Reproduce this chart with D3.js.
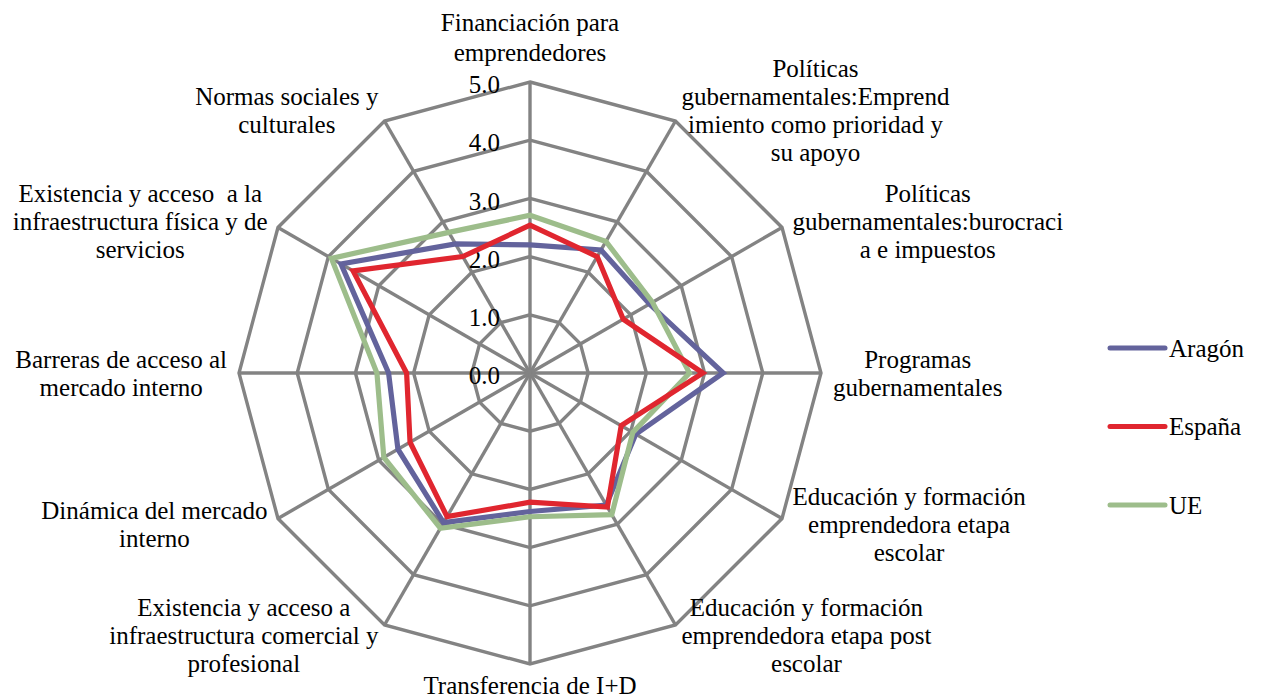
<!DOCTYPE html>
<html>
<head>
<meta charset="utf-8">
<script src="https://cdn.jsdelivr.net/npm/d3@7"></script>
<style>
  html, body { margin: 0; padding: 0; background: #ffffff; }
  svg { display: block; }
  text { font-family: "Liberation Serif", "DejaVu Serif", serif; fill: #000; white-space: pre; }
</style>
</head>
<body>
<svg id="chart" width="1264" height="700"></svg>
<script>
// ---- Data ----
const categories = [
  "Financiación para\nemprendedores",
  "Políticas\ngubernamentales:Emprend\nimiento como prioridad y\nsu apoyo",
  "Políticas\ngubernamentales:burocraci\na e impuestos",
  "Programas\ngubernamentales",
  "Educación y formación\nemprendedora etapa\nescolar",
  "Educación y formación\nemprendedora etapa post\nescolar",
  "Transferencia de I+D",
  "Existencia y acceso a\ninfraestructura comercial y\nprofesional",
  "Dinámica del mercado\ninterno",
  "Barreras de acceso al\nmercado interno",
  "Existencia y acceso  a la\ninfraestructura física y de\nservicios",
  "Normas sociales y\nculturales"
];
const seriesNames = ["Aragón", "España", "UE"];
const aragon = [2.20, 2.44, 2.37, 3.32, 2.10, 2.62, 2.38, 2.97, 2.62, 2.43, 3.75, 2.56];
const espana = [2.54, 2.31, 1.85, 2.97, 1.81, 2.66, 2.22, 2.85, 2.38, 2.12, 3.51, 2.31];
const ue     = [2.71, 2.61, 2.43, 2.74, 2.04, 2.81, 2.47, 3.08, 2.90, 2.63, 3.94, 2.79];
const tickValues = [0, 1, 2, 3, 4, 5];
const tickLabels = ["0.0", "1.0", "2.0", "3.0", "4.0", "5.0"];

// ---- Styles ----
const colors = { "Aragón": "#63639c", "España": "#e0262f", "UE": "#9dbd8b" };
const gridColor = "#838383";

const svg = d3.select("#chart");
const cx = 530, cy = 373;
const r = d3.scaleLinear().domain([0, 5]).range([0, 291]);
const angle = d3.scaleLinear().domain([0, categories.length]).range([0, 2 * Math.PI]);
const fontSize = 25;

function pt(i, v) {
  const a = angle(i);
  return [cx + r(v) * Math.sin(a), cy - r(v) * Math.cos(a)];
}

// Grid rings
const ringLine = d3.line();
tickValues.filter(v => v > 0).forEach(v => {
  const pts = categories.map((c, i) => pt(i, v));
  svg.append("path")
    .attr("d", ringLine(pts) + "Z")
    .attr("fill", "none")
    .attr("stroke", gridColor)
    .attr("stroke-width", 3.4)
    .attr("stroke-linejoin", "miter");
});
// Spokes
categories.forEach((c, i) => {
  const [x, y] = pt(i, 5);
  svg.append("line")
    .attr("x1", cx).attr("y1", cy).attr("x2", x).attr("y2", y)
    .attr("stroke", gridColor).attr("stroke-width", 3.4);
});

// Tick labels
svg.selectAll("text.tick").data(tickValues).enter().append("text")
  .attr("class", "tick")
  .attr("x", cx - 30)
  .attr("y", d => cy - r(d) + 2.5)
  .attr("dy", "0.35em")
  .attr("text-anchor", "end")
  .attr("font-size", fontSize)
  .text((d, i) => tickLabels[i]);

// Series (draw order: Aragón, UE, España on top)
const seriesData = { "Aragón": aragon, "España": espana, "UE": ue };
const drawOrder = ["Aragón", "UE", "España"];
const radial = d3.lineRadial()
  .angle((d, i) => angle(i))
  .radius(d => r(d))
  .curve(d3.curveLinearClosed);
const g = svg.append("g").attr("transform", `translate(${cx},${cy})`);
drawOrder.forEach(name => {
  g.append("path")
    .attr("d", radial(seriesData[name]))
    .attr("fill", "none")
    .attr("stroke", colors[name])
    .attr("stroke-width", 5.2)
    .attr("stroke-linejoin", "miter");
});

// Category labels
const lineH = 28;
categories.forEach((c, i) => {
  const a = angle(i);
  const s = Math.sin(a), co = Math.cos(a);
  const [vx, vy] = pt(i, 5);
  const ax = vx + 12 * s, ay = vy - 12 * co;
  const lines = c.split("\n");
  const n = lines.length;
  const tg = svg.append("g");
  const texts = lines.map(l => tg.append("text").attr("font-size", fontSize)
    .attr("text-anchor", "middle").attr("dy", "0.35em").text(l));
  const maxW = d3.max(texts, t => t.node().getComputedTextLength());
  let centerX, firstY, step = lineH;
  if (Math.abs(s) < 0.01) {
    centerX = ax;
    if (co > 0) { step = 30; firstY = ay - n * step + step / 2 - 3; }
    else firstY = ay + lineH / 2 - 5;
  } else {
    centerX = s > 0 ? ax + maxW / 2 : ax - maxW / 2;
    firstY = ay - n * lineH / 2 + lineH / 2;
  }
  texts.forEach((t, k) => t.attr("x", centerX).attr("y", firstY + k * step));
});

// Legend
const legend = svg.append("g");
seriesNames.forEach((name, i) => {
  const y = 348 + i * 78.5;
  legend.append("line")
    .attr("x1", 1110).attr("x2", 1165).attr("y1", y).attr("y2", y)
    .attr("stroke", colors[name]).attr("stroke-width", 5)
    .attr("stroke-linecap", "round");
  legend.append("text")
    .attr("x", 1169).attr("y", y).attr("dy", "0.35em")
    .attr("font-size", fontSize)
    .text(name);
});
</script>
</body>
</html>
